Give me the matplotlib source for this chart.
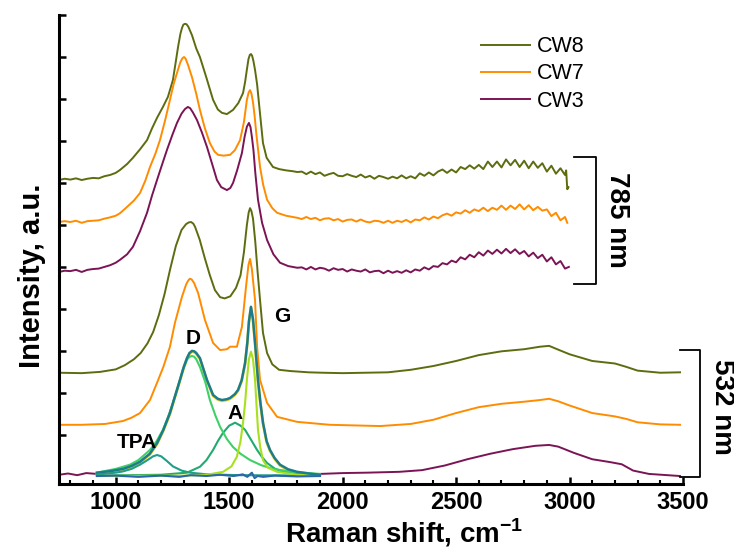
import matplotlib.pyplot as plt
import numpy as np

plt.rcParams['font.family'] = ['Liberation Sans', 'DejaVu Sans']
plt.rcParams['mathtext.fontset'] = 'custom'
plt.rcParams['mathtext.rm'] = 'Liberation Sans'
plt.rcParams['mathtext.bf'] = 'Liberation Sans:bold'

# Raman spectra (shift in cm-1, stacked intensity in a.u.)
cw8_785 = [(750, 7.07), (775, 7.10), (800, 7.08), (825, 7.11), (850, 7.07), (875, 7.10), (900, 7.12),
           (925, 7.11), (950, 7.16), (975, 7.19), (1000, 7.24), (1019, 7.31), (1050, 7.45), (1076, 7.60),
           (1107, 7.80), (1138, 8.02), (1160, 8.30), (1182, 8.55), (1208, 8.81), (1230, 9.05), (1252, 9.45),
           (1265, 9.90), (1275, 10.25), (1285, 10.55), (1292, 10.69), (1298, 10.77), (1305, 10.79),
           (1312, 10.78), (1320, 10.72), (1336, 10.52), (1355, 10.20), (1371, 10.0), (1385, 9.76),
           (1400, 9.50), (1415, 9.23), (1429, 8.98), (1450, 8.75), (1468, 8.67), (1490, 8.64), (1517, 8.74),
           (1540, 8.90), (1561, 9.14), (1570, 9.40), (1578, 9.70), (1585, 9.95), (1591, 10.05), (1596, 10.07),
           (1601, 10.03), (1607, 9.90), (1614, 9.69), (1623, 9.35), (1635, 8.70), (1649, 7.95), (1665, 7.60),
           (1693, 7.38), (1720, 7.33), (1750, 7.30), (1780, 7.28), (1800, 7.26),
           (1820, 7.27), (1840, 7.21), (1860, 7.27), (1880, 7.21), (1900, 7.25), (1920, 7.17), (1940, 7.21),
           (1960, 7.24), (1980, 7.17), (2000, 7.16), (2020, 7.21), (2040, 7.17), (2060, 7.14), (2080, 7.20),
           (2100, 7.13), (2120, 7.17), (2140, 7.10), (2160, 7.17), (2180, 7.14), (2200, 7.10), (2220, 7.15),
           (2240, 7.11), (2260, 7.18), (2280, 7.11), (2300, 7.16), (2320, 7.11), (2340, 7.23), (2360, 7.17),
           (2380, 7.25), (2400, 7.18), (2420, 7.27), (2440, 7.32), (2460, 7.24), (2480, 7.32), (2500, 7.25),
           (2520, 7.38), (2540, 7.33), (2560, 7.42), (2580, 7.34), (2600, 7.43), (2620, 7.33), (2640, 7.51),
           (2660, 7.38), (2680, 7.51), (2700, 7.37), (2720, 7.56), (2740, 7.42), (2760, 7.55), (2780, 7.38),
           (2800, 7.53), (2820, 7.35), (2840, 7.51), (2860, 7.36), (2880, 7.47), (2900, 7.27), (2920, 7.41),
           (2940, 7.22), (2960, 7.35), (2980, 7.19), (2985, 7.30), (2990, 6.85), (2995, 6.90)]

cw7_785 = [(750, 6.07), (775, 6.09), (800, 6.07), (825, 6.10), (850, 6.05), (875, 6.09), (900, 6.10),
           (925, 6.11), (950, 6.15), (975, 6.18), (1000, 6.22), (1019, 6.28), (1050, 6.43), (1080, 6.58),
           (1107, 6.76), (1130, 7.05), (1151, 7.38), (1175, 7.70), (1195, 8.02), (1218, 8.50), (1239, 8.98),
           (1255, 9.35), (1270, 9.62), (1285, 9.88), (1294, 9.97), (1301, 10.0), (1308, 9.96), (1318, 9.82),
           (1336, 9.52), (1355, 9.12), (1371, 8.74), (1393, 8.30), (1415, 7.95), (1435, 7.75), (1451, 7.67),
           (1475, 7.65), (1504, 7.67), (1525, 7.78), (1548, 8.02), (1565, 8.45), (1578, 8.98), (1586, 9.16),
           (1592, 9.21), (1598, 9.13), (1605, 8.92), (1612, 8.60), (1620, 8.15), (1636, 7.38), (1650, 6.95),
           (1667, 6.60), (1690, 6.40), (1711, 6.29), (1750, 6.22), (1780, 6.19), (1800, 6.17),
           (1820, 6.14), (1840, 6.19), (1860, 6.14), (1880, 6.17), (1900, 6.11), (1920, 6.15), (1940, 6.16),
           (1960, 6.11), (1980, 6.14), (2000, 6.08), (2020, 6.12), (2040, 6.13), (2060, 6.08), (2080, 6.13),
           (2100, 6.08), (2120, 6.06), (2140, 6.10), (2160, 6.09), (2180, 6.05), (2200, 6.10), (2220, 6.05),
           (2240, 6.10), (2260, 6.07), (2280, 6.12), (2300, 6.06), (2320, 6.13), (2340, 6.11), (2360, 6.18),
           (2380, 6.13), (2400, 6.20), (2420, 6.16), (2440, 6.23), (2460, 6.27), (2480, 6.22), (2500, 6.30),
           (2520, 6.27), (2540, 6.35), (2560, 6.29), (2580, 6.37), (2600, 6.33), (2620, 6.41), (2640, 6.33),
           (2660, 6.41), (2680, 6.36), (2700, 6.46), (2720, 6.36), (2740, 6.46), (2760, 6.38), (2780, 6.49),
           (2800, 6.37), (2820, 6.47), (2840, 6.35), (2860, 6.43), (2880, 6.34), (2900, 6.37), (2920, 6.21),
           (2940, 6.29), (2960, 6.11), (2980, 6.19), (2990, 6.05)]

cw3_785 = [(750, 4.88), (775, 4.91), (800, 4.90), (825, 4.93), (850, 4.88), (875, 4.93), (900, 4.95),
           (925, 4.96), (950, 5.00), (975, 5.04), (1000, 5.10), (1019, 5.17), (1050, 5.30), (1076, 5.48),
           (1107, 5.85), (1138, 6.29), (1160, 6.70), (1182, 7.07), (1205, 7.45), (1226, 7.79), (1250, 8.15),
           (1270, 8.43), (1290, 8.65), (1305, 8.76), (1318, 8.81), (1328, 8.78), (1340, 8.68), (1358, 8.50),
           (1380, 8.20), (1402, 7.86), (1425, 7.45), (1446, 7.07), (1465, 6.90), (1490, 6.83), (1505, 6.88),
           (1517, 7.0), (1535, 7.30), (1556, 7.71), (1568, 8.10), (1578, 8.34), (1587, 8.43), (1594, 8.33),
           (1600, 8.10), (1607, 7.78), (1615, 7.25), (1627, 6.60), (1645, 6.05), (1667, 5.64), (1695, 5.30),
           (1724, 5.10), (1760, 5.02), (1800, 4.98),
           (1820, 4.99), (1840, 4.94), (1860, 5.00), (1880, 4.94), (1900, 4.98), (1920, 4.96), (1940, 4.91),
           (1960, 4.97), (1980, 4.93), (2000, 4.95), (2020, 4.89), (2040, 4.94), (2060, 4.91), (2080, 4.89),
           (2100, 4.94), (2120, 4.87), (2140, 4.90), (2160, 4.91), (2180, 4.85), (2200, 4.91), (2220, 4.86),
           (2240, 4.90), (2260, 4.86), (2280, 4.92), (2300, 4.87), (2320, 4.94), (2340, 4.91), (2360, 4.99),
           (2380, 4.94), (2400, 5.02), (2420, 5.00), (2440, 5.09), (2460, 5.06), (2480, 5.15), (2500, 5.11),
           (2520, 5.23), (2540, 5.18), (2560, 5.29), (2580, 5.23), (2600, 5.35), (2620, 5.27), (2640, 5.39),
           (2660, 5.31), (2680, 5.41), (2700, 5.32), (2720, 5.43), (2740, 5.33), (2760, 5.42), (2780, 5.31),
           (2800, 5.38), (2820, 5.25), (2840, 5.34), (2860, 5.21), (2880, 5.29), (2900, 5.13), (2920, 5.23),
           (2940, 5.06), (2960, 5.14), (2980, 4.96), (2997, 5.00)]

cw8_532 = [(750, 2.48), (850, 2.47), (931, 2.50), (1000, 2.56), (1040, 2.66), (1080, 2.80), (1110, 2.95),
           (1140, 3.18), (1165, 3.45), (1190, 3.85), (1215, 4.35), (1240, 4.95), (1265, 5.50), (1290, 5.88),
           (1310, 6.02), (1322, 6.06), (1332, 6.07), (1342, 6.03), (1350, 5.95), (1370, 5.65), (1393, 5.20),
           (1415, 4.80), (1437, 4.45), (1460, 4.28), (1480, 4.25), (1505, 4.30), (1530, 4.50), (1550, 4.80),
           (1565, 5.35), (1578, 6.0), (1586, 6.30), (1592, 6.40), (1598, 6.33), (1605, 6.15), (1615, 5.60),
           (1625, 4.90), (1636, 4.21), (1649, 3.43), (1667, 2.95), (1690, 2.68), (1720, 2.55), (1770, 2.52),
           (1850, 2.49), (1913, 2.48), (2000, 2.47), (2100, 2.48), (2200, 2.49), (2300, 2.55), (2400, 2.64),
           (2500, 2.76), (2600, 2.90), (2700, 2.99), (2800, 3.04), (2870, 3.10), (2910, 3.12), (2950, 3.03),
           (3000, 2.92), (3100, 2.76), (3200, 2.70), (3250, 2.62), (3300, 2.53), (3400, 2.48), (3487, 2.49)]

cw7_532 = [(750, 1.24), (850, 1.24), (953, 1.26), (1032, 1.33), (1070, 1.41), (1107, 1.52), (1151, 1.83),
           (1182, 2.24), (1210, 2.62), (1239, 3.10), (1261, 3.67), (1292, 4.29), (1310, 4.58), (1320, 4.68),
           (1327, 4.72), (1335, 4.70), (1345, 4.62), (1363, 4.38), (1393, 3.74), (1429, 3.19), (1460, 3.02),
           (1490, 3.04), (1504, 3.10), (1534, 3.10), (1556, 3.57), (1574, 4.52), (1585, 5.05), (1592, 5.19),
           (1600, 4.95), (1614, 4.21), (1623, 3.10), (1636, 2.31), (1667, 1.76), (1711, 1.43), (1799, 1.31),
           (1944, 1.24), (2165, 1.21), (2300, 1.26), (2400, 1.36), (2500, 1.52), (2600, 1.66), (2700, 1.74),
           (2800, 1.79), (2870, 1.83), (2910, 1.86), (2950, 1.80), (3000, 1.70), (3100, 1.52), (3200, 1.44),
           (3250, 1.38), (3300, 1.30), (3400, 1.25), (3487, 1.24)]

# CW3 at 532 nm outside the fitted window
cw3_532_low = [(750, 0.05), (790, 0.08), (830, 0.04), (870, 0.09), (917, 0.07)]
cw3_532_high = [(1900, 0.07), (2000, 0.09), (2107, 0.10), (2250, 0.12), (2350, 0.16), (2450, 0.27),
                (2550, 0.42), (2650, 0.55), (2750, 0.66), (2850, 0.74), (2910, 0.76), (2950, 0.72),
                (3020, 0.57), (3100, 0.42), (3180, 0.35), (3230, 0.30), (3280, 0.15), (3350, 0.07),
                (3487, 0.02)]

# peak fit of CW3 (532 nm)
fit_total = [(917, 0.10), (980, 0.14), (1032, 0.19), (1070, 0.26), (1107, 0.36), (1150, 0.55), (1182, 0.80),
             (1210, 1.12), (1239, 1.52), (1260, 1.90), (1283, 2.31), (1300, 2.62), (1314, 2.83), (1325, 2.95),
             (1336, 3.0), (1346, 2.99), (1355, 2.95), (1371, 2.83), (1402, 2.31), (1429, 1.95), (1450, 1.86),
             (1468, 1.83), (1490, 1.85), (1504, 1.88), (1525, 1.97), (1539, 2.07), (1555, 2.30), (1570, 2.71),
             (1580, 3.20), (1587, 3.70), (1596, 4.05), (1605, 3.75), (1614, 3.19), (1627, 2.31), (1638, 1.75),
             (1649, 1.29), (1665, 0.85), (1680, 0.64), (1700, 0.45), (1724, 0.29), (1760, 0.18), (1799, 0.12),
             (1850, 0.08), (1900, 0.05)]
band_D = [(917, 0.10), (1000, 0.19), (1063, 0.29), (1100, 0.40), (1151, 0.64), (1180, 0.85), (1208, 1.12),
          (1230, 1.42), (1252, 1.76), (1275, 2.15), (1296, 2.55), (1315, 2.80), (1326, 2.86), (1336, 2.88),
          (1346, 2.86), (1355, 2.80), (1371, 2.62), (1395, 2.25), (1415, 1.83), (1440, 1.45), (1460, 1.19),
          (1490, 0.90), (1517, 0.71), (1550, 0.55), (1592, 0.40), (1640, 0.28), (1693, 0.19), (1780, 0.12),
          (1900, 0.07)]
band_TPA = [(917, 0.05), (944, 0.07), (1000, 0.10), (1032, 0.13), (1070, 0.19), (1107, 0.29), (1140, 0.40),
            (1165, 0.49), (1182, 0.52), (1200, 0.49), (1225, 0.38), (1252, 0.25), (1290, 0.15), (1327, 0.10),
            (1402, 0.06), (1550, 0.04), (1900, 0.03)]
band_A = [(917, 0.03), (1200, 0.05), (1314, 0.10), (1371, 0.24), (1400, 0.40), (1429, 0.64), (1450, 0.85),
          (1473, 1.05), (1500, 1.22), (1526, 1.29), (1550, 1.22), (1570, 1.12), (1600, 0.85), (1623, 0.64),
          (1645, 0.47), (1667, 0.33), (1700, 0.20), (1737, 0.12), (1800, 0.07), (1900, 0.04)]
band_G = [(917, 0.02), (1300, 0.03), (1402, 0.05), (1473, 0.12), (1510, 0.25), (1534, 0.48), (1550, 0.85),
          (1561, 1.29), (1570, 1.75), (1578, 2.31), (1587, 2.80), (1596, 2.98), (1605, 2.80), (1614, 2.31),
          (1620, 1.75), (1627, 1.12), (1637, 0.70), (1649, 0.40), (1670, 0.22), (1711, 0.12), (1800, 0.05),
          (1900, 0.03)]
residual = [(917, 0.02), (1000, 0.03), (1100, 0.0), (1200, 0.03), (1280, 0.0), (1330, 0.04), (1400, 0.02),
            (1460, 0.05), (1520, 0.02), (1560, 0.06), (1580, 0.0), (1600, 0.10), (1612, -0.03), (1625, 0.02),
            (1650, 0.0), (1700, 0.03), (1800, 0.01), (1900, 0.02)]

labels = ['CW8', 'CW7', 'CW3']
colors = ['#5c6d10', '#ff8c00', '#7b1455']
band_labels = [('D', 1340, 3.29), ('G', 1733, 3.81), ('A', 1526, 1.52), ('TPA', 1094, 0.83)]


def xy(pts):
    a = np.array(pts, dtype=float)
    return a[:, 0], a[:, 1]


fig = plt.figure(figsize=(7.34, 5.48), dpi=100)
ax = fig.add_axes([59 / 734, 64 / 548, 624 / 734, 469 / 548])

lines = []
for pts, c, lab in zip([cw8_785, cw7_785, cw3_785], colors, labels):
    ln, = ax.plot(*xy(pts), color=c, lw=1.4, label=lab)
    lines.append(ln)
for pts, c in zip([cw8_532, cw7_532, cw3_532_low, cw3_532_high], colors + [colors[2]]):
    ax.plot(*xy(pts), color=c, lw=1.4)

fx, fy = xy(fit_total)
ax.plot(fx, fy - 0.02, color='#f0d410', lw=2.0)
ax.plot(*xy(band_TPA), color='#1f9e88', lw=1.5)
ax.plot(*xy(band_A), color='#22aa70', lw=1.5)
ax.plot(*xy(band_D), color='#3fd068', lw=1.5)
ax.plot(*xy(band_G), color='#a8e020', lw=1.5)
ax.plot(*xy(residual), color='#2c66a8', lw=1.5)
ax.plot(fx, fy, color='#1c7c8e', lw=1.8)

for txt, x, y in band_labels:
    ax.text(x, y, txt, fontsize=15, fontweight='bold', ha='center', va='center')

# laser wavelength brackets
ax.plot([3020, 3117, 3117, 3020], [7.62, 7.62, 4.59, 4.59], color='black', lw=1.3, clip_on=False)
ax.text(3209, 6.12, '785 nm', rotation=-90, fontsize=20, fontweight='bold', ha='center', va='center')
ax.plot([3487, 3575, 3575, 3487], [3.02, 3.02, 0.0, 0.0], color='black', lw=1.3, clip_on=False)
ax.text(3672, 1.66, '532 nm', rotation=-90, fontsize=20, fontweight='bold', ha='center', va='center')

ax.set_xlim(750, 3500)
ax.set_ylim(-0.17, 11.0)
ax.set_xticks(np.arange(1000, 3501, 500))
ax.set_xticks(np.arange(800, 3501, 100), minor=True)
ax.set_yticks(np.arange(1, 12))
ax.set_yticklabels([])
ax.tick_params(axis='both', which='major', direction='in', length=5, width=1.8)
ax.tick_params(axis='x', which='minor', direction='in', length=3, width=1.5)
ax.tick_params(axis='x', labelsize=17, pad=5)
for lbl in ax.get_xticklabels():
    lbl.set_fontweight('bold')
for side in ['top', 'right']:
    ax.spines[side].set_visible(False)
for side in ['left', 'bottom']:
    ax.spines[side].set_linewidth(2.2)

ax.set_xlabel('Raman shift, cm$^{\\mathbf{\u22121}}$', fontsize=20, fontweight='bold', labelpad=2)
ax.xaxis.label.set_x(0.553)
ax.set_ylabel('Intensity, a.u.', fontsize=21, fontweight='bold', labelpad=6)
ax.yaxis.label.set_y(0.443)

ax.legend(handles=lines, loc='upper left', bbox_to_anchor=(0.676, 0.955), frameon=False, fontsize=15.5,
          handlelength=2.28, handletextpad=0.33, labelspacing=0.29, borderpad=0, borderaxespad=0)

fig.savefig('out.png', dpi=100)
